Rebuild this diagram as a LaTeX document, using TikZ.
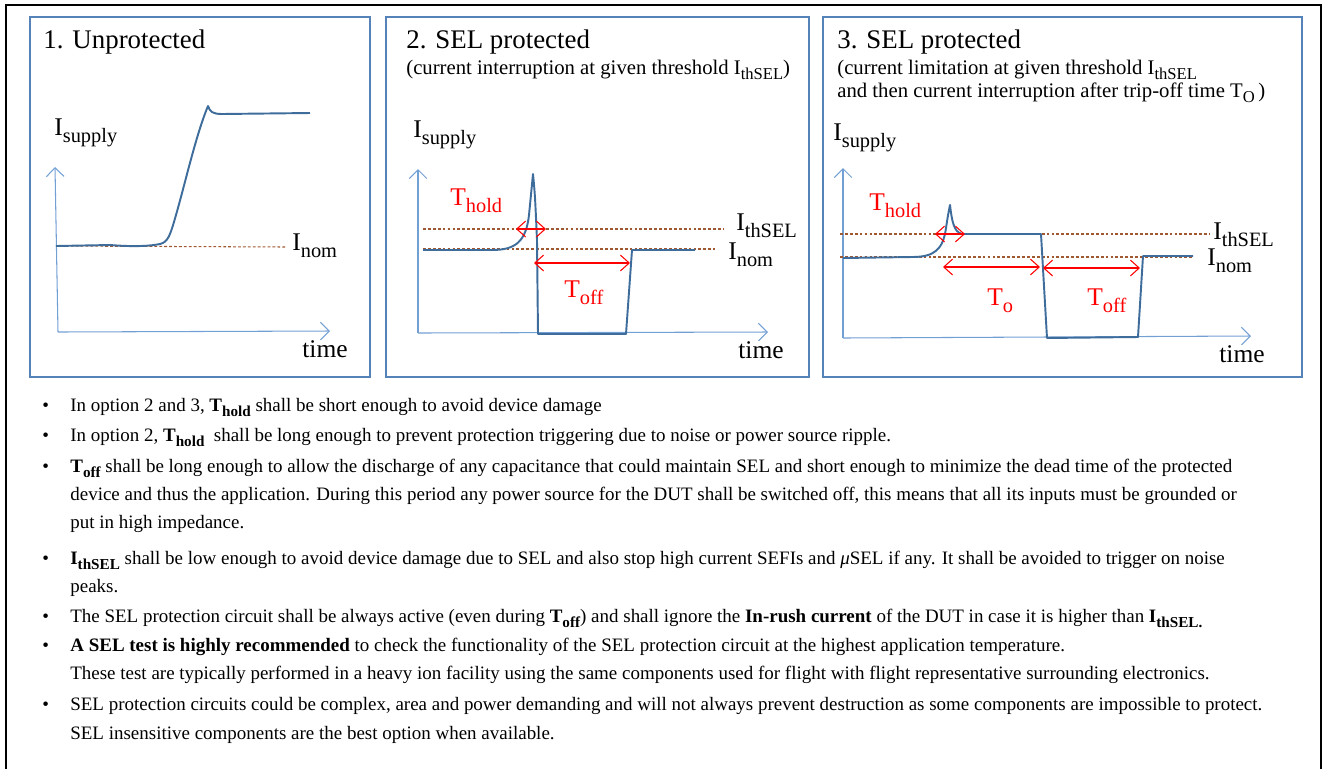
\documentclass[tikz,border=0pt]{standalone}
\usepackage{fontspec}
\setmainfont{Liberation Serif}
\usepackage{graphicx}
\usetikzlibrary{arrows.meta}
\definecolor{frameblue}{RGB}{84,130,185}
\definecolor{axisblue}{RGB}{115,160,212}
\definecolor{curveblue}{RGB}{62,108,155}
\definecolor{dashbrown}{RGB}{160,88,48}
\newcommand{\lsub}[1]{\raisebox{-0.28em}{\scalebox{0.8}{#1}}}

\begin{document}
\begin{tikzpicture}[x=0.02cm,y=-0.02cm]

      \tikzset{panel/.style={draw=frameblue, line width=0.9pt},
               axis/.style={draw=axisblue, line width=0.6pt, -{Straight Barb[length=5pt,width=10pt]}},
               curve/.style={draw=curveblue, line width=1.1pt, line join=round},
               level/.style={draw=dashbrown, line width=0.6pt, dash pattern=on 1.6pt off 1.2pt},
               span/.style={draw=red, line width=0.6pt, {Straight Barb[length=5pt,width=9pt]}-{Straight Barb[length=5pt,width=9pt]}},
               lbl/.style={anchor=base west, inner sep=0pt, font=\fontsize{14.5}{16}\selectfont},
               redlbl/.style={lbl, text=red},
               title/.style={anchor=base west, inner sep=0pt, font=\fontsize{15.3}{17}\selectfont},
               subtitle/.style={anchor=base west, inner sep=0pt, font=\fontsize{11.8}{13}\selectfont},
               bodytxt/.style={anchor=base west, inner sep=0pt, font=\fontsize{10.8}{12}\selectfont},
               dot/.style={bodytxt}}
      \useasboundingbox (0,0) rectangle (1323,769);
% Frame
      \draw[line width=1.1pt] (6,769) -- (6,5) -- (1321,5) -- (1321,769);
	%Panels
      	\draw[panel] (30,17) rectangle (370,377);
      	\draw[panel] (386,17) rectangle (809,377);
      	\draw[panel] (823,17) rectangle (1302,377);

% Panel 1
      	\node[title] (t1) at (43,48) {1. Unprotected};
      	\node[lbl] (isup1) at (54,135) {I\lsub{supply}};
      	\node[lbl] (inom1) at (292,250) {I\lsub{nom}};
      	\node[lbl] (time1) at (302,357) {time};
      	\coordinate (o1) at (58,332);
      	\coordinate (y1) at (55,167);
      	\coordinate (x1) at (330,331);
      	\coordinate (n1a) at (56,246);
      	\coordinate (n1b) at (287,247);
		\draw[axis] (o1) -- (y1);
		\draw[axis] (o1) -- (x1);
		\draw[level] (n1a) -- (n1b);
		\draw[curve] (n1a) -- (110,245) .. controls (135,247) and (150,246) .. (160,244)
		  .. controls (168,242) and (170,236) .. (176,215) .. controls (186,180) and (196,135) .. (208,106)
		  .. controls (210,112) and (213,114) .. (222,114) -- (310,113);

% Panel 2
      	\node[title] (t2) at (406,48) {2. SEL protected};
      	\node[subtitle] (s2) at (406,74) {(current interruption at given threshold I\lsub{thSEL})};
      	\node[lbl] (isup2) at (413,137) {I\lsub{supply}};
      	\node[lbl] (ith2) at (736,230) {I\lsub{thSEL}};
      	\node[lbl] (inom2) at (728,259) {I\lsub{nom}};
      	\node[redlbl] (thold2) at (450,205) {T\lsub{hold}};
      	\node[redlbl] (toff2) at (564,297) {T\lsub{off}};
      	\node[lbl] (time2) at (738,358) {time};
      	\coordinate (o2) at (418,333);
      	\coordinate (y2) at (418,169);
      	\coordinate (x2) at (768,332);
      	\coordinate (h2a) at (423,229);
      	\coordinate (h2b) at (724,229);
      	\coordinate (n2a) at (423,249);
      	\coordinate (n2b) at (715,249);
      	\coordinate (th2a) at (516,229);
      	\coordinate (th2b) at (546,229);
      	\coordinate (tf2a) at (534,263);
      	\coordinate (tf2b) at (630,263);
		\draw[axis] (o2) -- (y2);
		\draw[axis] (o2) -- (x2);
		\draw[level] (h2a) -- (h2b);
		\draw[level] (n2a) -- (n2b);
		\draw[curve] (423,250) -- (492,250) .. controls (515,250) and (526,242) .. (529,215)
		  .. controls (531,195) .. (533,174) .. controls (535,195) .. (537,240)
		  -- (538,334) -- (626,334) -- (632,250) -- (695,250);
		\draw[span] (th2a) -- (th2b);
		\draw[span] (tf2a) -- (tf2b);

% Panel 3
      	\node[title] (t3) at (837,48) {3. SEL protected};
      	\node[subtitle] (s3a) at (837,74) {(current limitation at given threshold I\lsub{thSEL}};
      	\node[subtitle] (s3b) at (837,97) {and then current interruption after trip-off time T\lsub{O}\,)};
      	\node[lbl] (isup3) at (833,140) {I\lsub{supply}};
      	\node[lbl] (ith3) at (1213,239) {I\lsub{thSEL}};
      	\node[lbl] (inom3) at (1207,265) {I\lsub{nom}};
      	\node[redlbl] (thold3) at (869,210) {T\lsub{hold}};
      	\node[redlbl] (to3) at (987,305) {T\lsub{o}};
      	\node[redlbl] (toff3) at (1087,305) {T\lsub{off}};
      	\node[lbl] (time3) at (1219,362) {time};
      	\coordinate (o3) at (843,338);
      	\coordinate (y3) at (843,168);
      	\coordinate (x3) at (1251,336);
      	\coordinate (h3a) at (840,234);
      	\coordinate (h3b) at (1210,234);
      	\coordinate (n3a) at (840,257);
      	\coordinate (n3b) at (1193,257);
      	\coordinate (th3a) at (935,234);
      	\coordinate (th3b) at (965,234);
      	\coordinate (to3a) at (943,267);
      	\coordinate (to3b) at (1040,267);
      	\coordinate (tf3a) at (1043,268);
      	\coordinate (tf3b) at (1140,268);
		\draw[axis] (o3) -- (y3);
		\draw[axis] (o3) -- (x3);
		\draw[level] (h3a) -- (h3b);
		\draw[level] (n3a) -- (n3b);
		\draw[curve] (843,258) -- (912,257) .. controls (934,257) and (943,250) .. (946,228)
		  .. controls (948,215) .. (950,205) .. controls (952,222) and (954,232) .. (962,234)
		  -- (1041,234) -- (1047,338) -- (1138,337) -- (1143,256) -- (1193,256);
		\draw[span] (th3a) -- (th3b);
		\draw[span] (to3a) -- (to3b);
		\draw[span] (tf3a) -- (tf3b);

% Notes
	%Bullets
		\foreach \y/\n in {411/1,441/2,472/3,564/6,622/8,651/9,710/11}
		  \node[dot] (b\n) at (42,\y) {•};
	%Lines
      	\node[bodytxt] (l1) at (70,411) {In option 2 and 3, \textbf{T\lsub{hold}} shall be short enough to avoid device damage};
      	\node[bodytxt] (l2) at (70,441) {In option 2, \textbf{T\lsub{hold}}\ \ shall be long enough to prevent protection triggering due to noise or power source ripple.};
      	\node[bodytxt] (l3) at (70,472) {\textbf{T\lsub{off}} shall be long enough to allow the discharge of any capacitance that could maintain SEL and short enough to minimize the dead time of the protected};
      	\node[bodytxt] (l4) at (70,500) {device and thus the application. During this period any power source for the DUT shall be switched off, this means that all its inputs must be grounded or};
      	\node[bodytxt] (l5) at (70,528) {put in high impedance.};
      	\node[bodytxt] (l6) at (70,564) {\textbf{I\lsub{thSEL}} shall be low enough to avoid device damage due to SEL and also stop high current SEFIs and \textit{μ}SEL if any. It shall be avoided to trigger on noise};
      	\node[bodytxt] (l7) at (70,592) {peaks.};
      	\node[bodytxt] (l8) at (70,622) {The SEL protection circuit shall be always active (even during \textbf{T\lsub{off}}) and shall ignore the \textbf{In-rush current} of the DUT in case it is higher than \textbf{I\lsub{thSEL.}}};
      	\node[bodytxt] (l9) at (70,651) {\textbf{A SEL test is highly recommended} to check the functionality of the SEL protection circuit at the highest application temperature.};
      	\node[bodytxt] (l10) at (70,679) {These test are typically performed in a heavy ion facility using the same components used for flight with flight representative surrounding electronics.};
      	\node[bodytxt] (l11) at (70,710) {SEL protection circuits could be complex, area and power demanding and will not always prevent destruction as some components are impossible to protect.};
      	\node[bodytxt] (l12) at (70,739) {SEL insensitive components are the best option when available.};

\end{tikzpicture}
\end{document}
